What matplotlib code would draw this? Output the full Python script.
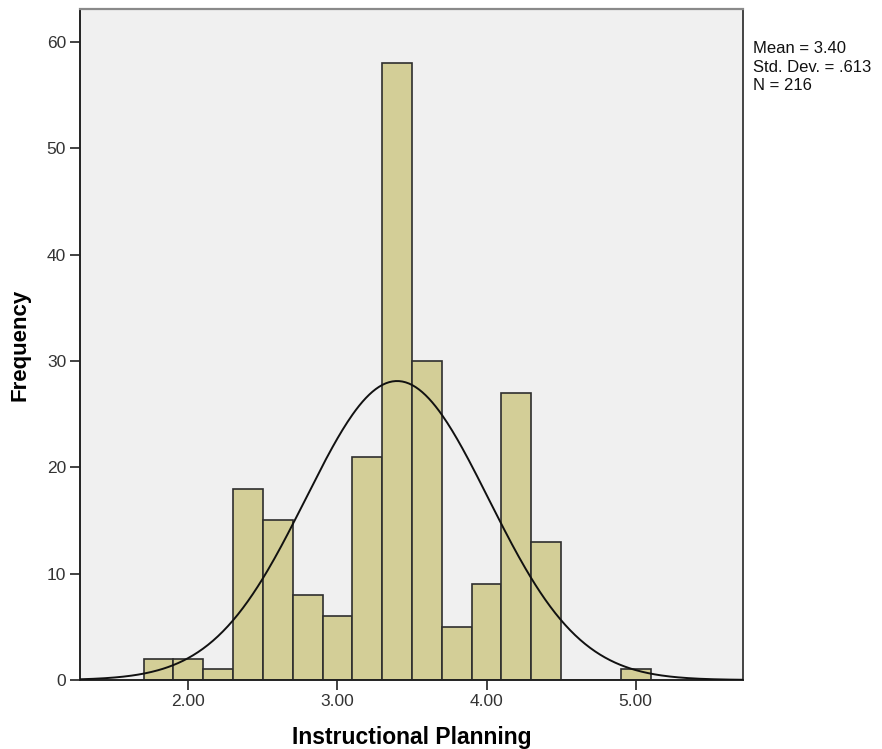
import numpy as np
import matplotlib
matplotlib.use("Agg")
import matplotlib.pyplot as plt

# Data
bin_left = [1.7, 1.9, 2.1, 2.3, 2.5, 2.7, 2.9, 3.1, 3.3, 3.5, 3.7, 3.9, 4.1, 4.3, 4.5, 4.7, 4.9]
counts = [2, 2, 1, 18, 15, 8, 6, 21, 58, 30, 5, 9, 27, 13, 0, 0, 1]
bin_width = 0.2
mean_val = 3.40
sd_val = 0.613
n_val = 216
x_ticks = [2.0, 3.0, 4.0, 5.0]
y_ticks = [0, 10, 20, 30, 40, 50, 60]

plt.rcParams['font.family'] = ['Liberation Sans', 'DejaVu Sans']

fig = plt.figure(figsize=(8.82, 7.49), dpi=100)
ax = fig.add_axes([80/882, 1-680/749, (743-80)/882, (680-9)/749])
ax.set_facecolor('#f0f0f0')

ax.bar(bin_left, counts, width=bin_width, align='edge', color='#d3ce97',
       edgecolor='#2e2e2e', linewidth=1.2, zorder=2)

xmin, xmax = 1.273, 5.72
ax.set_xlim(xmin, xmax)
ax.set_ylim(0, 63.1)

xs = np.linspace(xmin, xmax, 400)
ys = n_val * bin_width / (sd_val * np.sqrt(2*np.pi)) * np.exp(-0.5*((xs-mean_val)/sd_val)**2)
ax.plot(xs, ys, color='#111111', lw=1.4, zorder=3)

ax.set_xticks(x_ticks)
ax.set_xticklabels([f"{v:.2f}" for v in x_ticks])
ax.set_yticks(y_ticks)
ax.tick_params(axis='both', direction='out', length=7, width=1.2, colors='#222222',
               labelsize=12.5, labelcolor='#333333', pad=3)

for s in ['left', 'bottom']:
    ax.spines[s].set_color('#222222')
    ax.spines[s].set_linewidth(1.4)
ax.spines['top'].set_color('#8a8a8a')
ax.spines['top'].set_linewidth(1.6)
ax.spines['right'].set_color('#444444')
ax.spines['right'].set_linewidth(1.4)

ax.set_xlabel('Instructional Planning', fontsize=16.5, fontweight='bold', labelpad=12)
ax.set_ylabel('Frequency', fontsize=16, fontweight='bold', labelpad=12)

fig.text(753/882, 1-41/749,
         f"Mean = {mean_val:.2f}\nStd. Dev. = {str(f'{sd_val:.3f}')[1:]}\nN = {n_val}",
         fontsize=12, va='top', ha='left', color='#111111', linespacing=1.3)

fig.savefig('out.png', dpi=100, facecolor='white')
